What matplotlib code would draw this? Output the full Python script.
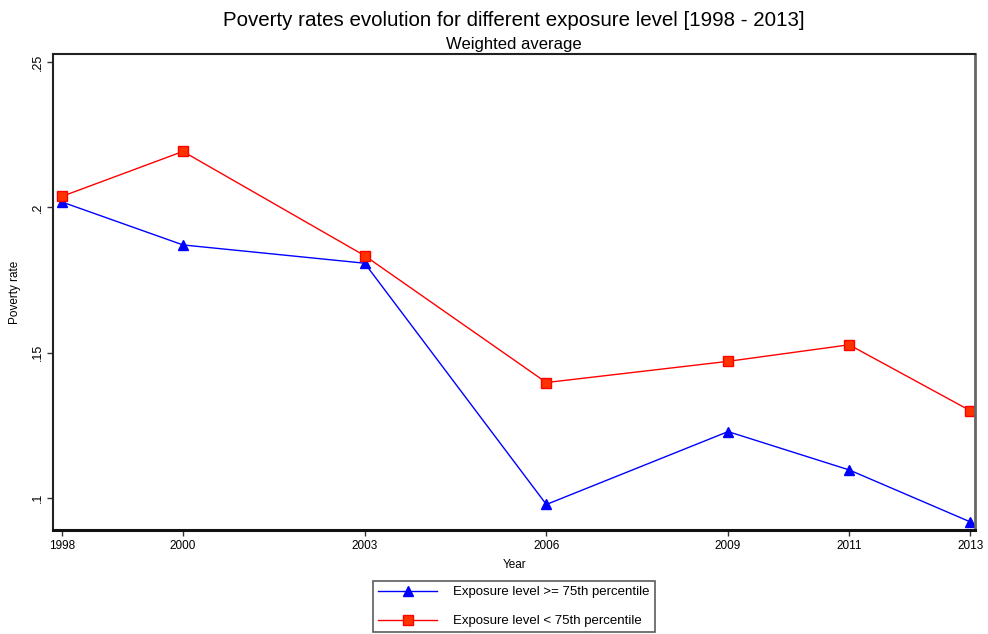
import matplotlib.pyplot as plt

plt.rcParams['font.family'] = ['Liberation Sans', 'DejaVu Sans']

years = [1998, 2000, 2003, 2006, 2009, 2011, 2013]
high_exposure = [0.2019, 0.1871, 0.1808, 0.0977, 0.1228, 0.1096, 0.0917]
low_exposure = [0.2038, 0.2193, 0.1834, 0.1397, 0.1470, 0.1527, 0.1300]
y_ticks = [0.1, 0.15, 0.2, 0.25]
y_tick_labels = ['.1', '.15', '.2', '.25']

fig = plt.figure(figsize=(9.88, 6.34), dpi=100)
ax = fig.add_axes([0.054, 0.164, 0.933, 0.751])

ax.plot(years, high_exposure, color='#0000ff', lw=1.0, marker='^', ms=7,
        mfc='#0000ff', mec='#0000ff', label='Exposure level >= 75th percentile')
ax.plot(years, low_exposure, color='#ff0000', lw=1.0, marker='s', ms=7,
        mfc='#ff3300', mec='#ff0000', label='Exposure level < 75th percentile')

ax.set_xlim(1997.86, 2013.08)
ax.set_ylim(0.0889, 0.2529)
ax.set_xticks(years)
ax.set_xticklabels([str(y) for y in years], fontsize=8.5)
ax.set_yticks(y_ticks)
ax.set_yticklabels(y_tick_labels, fontsize=9, rotation=90, va='center')
ax.tick_params(direction='out', length=4, width=1, color='#333333', pad=3)

for side in ['top', 'left']:
    ax.spines[side].set_linewidth(1.5)
    ax.spines[side].set_color('#222222')
ax.spines['bottom'].set_linewidth(2.2)
ax.spines['bottom'].set_color('#111111')
ax.spines['right'].set_linewidth(2)
ax.spines['right'].set_color('#666666')

ax.set_xlabel('Year', fontsize=8.5, labelpad=5)
ax.set_ylabel('Poverty rate', fontsize=8.5, labelpad=8)

fig.text(0.52, 0.968, 'Poverty rates evolution for different exposure level [1998 - 2013]',
         ha='center', va='center', fontsize=14.8)
fig.text(0.52, 0.930, 'Weighted average', ha='center', va='center', fontsize=12)

leg = fig.legend(loc='center', bbox_to_anchor=(0.52, 0.043), ncol=1, fontsize=9.5,
                 frameon=True, fancybox=False, edgecolor='#333333',
                 handlelength=4.5, borderpad=0.4, borderaxespad=0,
                 labelspacing=1.25, handletextpad=1.2)
leg.get_frame().set_linewidth(1.2)

fig.savefig('out.png', dpi=100)
